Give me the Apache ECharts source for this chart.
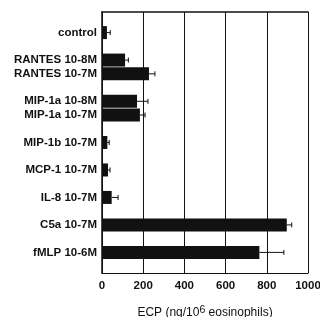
<!DOCTYPE html>
<html>
<head>
<meta charset="utf-8">
<title>ECP release</title>
<script src="https://cdn.jsdelivr.net/npm/echarts@6/dist/echarts.min.js"></script>
<style>
  html, body { margin: 0; padding: 0; background: #fff; }
</style>
</head>
<body>
<div id="main" style="width: 320px;height:317px;"></div>
<script type="text/javascript">
    // empty slots ('') keep the gaps between the groups
    var categories = ['', 'control', '', 'RANTES 10-8M', 'RANTES 10-7M', '', 'MIP-1a 10-8M', 'MIP-1a 10-7M', '',
        'MIP-1b 10-7M', '', 'MCP-1 10-7M', '', 'IL-8 10-7M', '', 'C5a 10-7M', '', 'fMLP 10-6M', ''];
    var means = [null, 24, null, 112, 228, null, 170, 184, null, 26, null, 29, null, 47, null, 897, null, 764, null];
    var errTops = [null, 40, null, 128, 257, null, 223, 209, null, 35, null, 39, null, 78, null, 921, null, 883, null];
    var xTicks = [0, 200, 400, 600, 800, 1000];

    var errData = [];
    for (var i = 0; i < categories.length; i++) {
        if (means[i] != null) errData.push([i, means[i], errTops[i]]);
    }

    var font = 'Liberation Sans, Arial, sans-serif';
    var myChart = echarts.init(document.getElementById('main'));

    var option = {
        animation: false,
        grid: { left: 102, right: 12, top: 12, bottom: 44, outerBoundsMode: 'none' },
        xAxis: [{
            type: 'value',
            min: xTicks[0],
            max: xTicks[xTicks.length - 1],
            interval: 200,
            axisLine: { show: true, lineStyle: { color: '#111', width: 1 } },
            axisTick: { show: false },
            splitLine: { show: true, lineStyle: { color: '#111', width: 1 } },
            axisLabel: {
                color: '#111', fontSize: 11.5, fontWeight: 'bold', fontFamily: font, margin: 7,
                formatter: function (v) { return String(v); }
            },
            name: 'ECP (ng/10{sup|6} eosinophils)',
            nameLocation: 'middle',
            nameGap: 32,
            nameTextStyle: {
                color: '#111', fontSize: 12, fontFamily: font, lineHeight: 16,
                rich: { sup: { fontSize: 10.5, verticalAlign: 'top', lineHeight: 16, fontFamily: font, color: '#111' } }
            }
        }, {
            type: 'value',
            position: 'top',
            min: 0,
            max: 1000,
            axisLine: { show: true, onZero: false, lineStyle: { color: '#111', width: 1.5 } },
            axisTick: { show: false },
            axisLabel: { show: false },
            splitLine: { show: false }
        }],
        yAxis: {
            type: 'category',
            inverse: true,
            data: categories,
            axisLine: { show: true, lineStyle: { color: '#111', width: 1.5 } },
            axisTick: { show: false },
            axisLabel: { color: '#111', fontSize: 11.5, fontWeight: 'bold', fontFamily: font, margin: 5, interval: 0 }
        },
        series: [{
            type: 'bar',
            data: means,
            barWidth: 13,
            itemStyle: { color: '#111' }
        }, {
            type: 'custom',
            data: errData,
            encode: { x: [1, 2], y: 0 },
            z: 3,
            renderItem: function (params, api) {
                var y = api.value(0);
                var a = api.coord([api.value(1), y]);
                var b = api.coord([api.value(2), y]);
                var style = { stroke: '#111', lineWidth: 1 };
                return {
                    type: 'group',
                    children: [
                        { type: 'line', shape: { x1: a[0], y1: a[1], x2: b[0], y2: b[1] }, style: style },
                        { type: 'line', shape: { x1: b[0], y1: b[1] - 2.5, x2: b[0], y2: b[1] + 2.5 }, style: style }
                    ]
                };
            }
        }]
    };

    myChart.setOption(option);
</script>
</body>
</html>
